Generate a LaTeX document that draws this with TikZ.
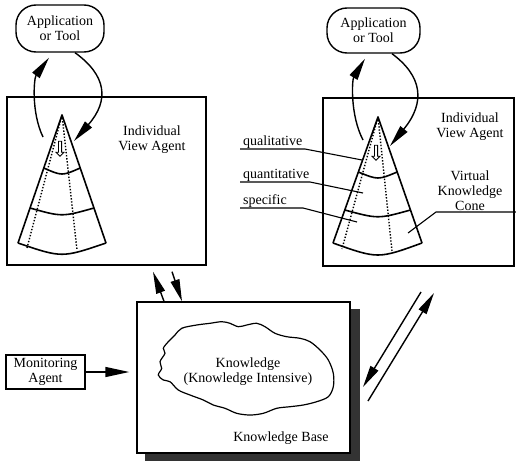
\documentclass[tikz,border=0pt]{standalone}
\usepackage{fontspec}
\setmainfont{Liberation Serif}
\usetikzlibrary{arrows.meta,shapes.arrows,calc}

\begin{document}
\begin{tikzpicture}[x=1pt,y=-1pt,
  every node/.style={font=\fontsize{14}{15}\selectfont, align=center},
  frame/.style={draw, line width=1.4pt, inner sep=0pt},
  appbox/.style={draw, line width=1.4pt, rounded corners=20pt, inner sep=0pt},
  conel/.style={line width=1.6pt, line join=round},
  inner/.style={line width=1.4pt, dash pattern=on 1.4pt off 1.7pt},
  flowarrow/.style={line width=1.4pt, -{Triangle[length=22pt,width=9pt]}},
  bigarrow/.style={line width=1.4pt, -{Triangle[length=24pt,width=10pt]}},
  leader/.style={line width=1.1pt},
  smallarrow/.style={single arrow, draw, fill=white, line width=0.8pt,
    shape border rotate=270, minimum height=15pt, minimum width=8pt,
    single arrow head extend=1.5pt, inner sep=0.6pt}]
\useasboundingbox (0,0) rectangle (516,460);

% ---------- applications ----------
\node[appbox, minimum width=88pt, minimum height=47pt] (appL) at (60,28.5) {Application\\or Tool};
\node[appbox, minimum width=93pt, minimum height=45pt] (appR) at (373.5,30.5) {Application\\or Tool};

% ---------- view agent frames ----------
\node[frame, minimum width=199pt, minimum height=168pt] (viewL) at (106.5,181) {};
\node[frame, minimum width=191pt, minimum height=168pt] (viewR) at (418.5,182) {};
\node (labL) at (152,140) {Individual\\View Agent};
\node (labR) at (470,127) {Individual\\View Agent};

% ---------- left cone ----------
\coordinate (LA) at (62,115);
\coordinate (LBL) at (18,243);
\coordinate (LBR) at (106,243);
\draw[conel] (LBL) -- (LA) -- (LBR);
\draw[conel] (LBL) .. controls (62,258) .. (LBR);
\draw[conel] (43.8,168) .. controls (62,176) .. (80.2,168);
\draw[conel] (30,208) .. controls (62,217) .. (94,208);
\draw[inner] (LA) -- (27,248);
\draw[inner] (LA) -- (77,250);
\node[smallarrow] (sL) at (60,148) {};

% ---------- right cone ----------
\coordinate (RA) at (378,117);
\coordinate (RBL) at (333,243);
\coordinate (RBR) at (422,243);
\draw[conel] (RBL) -- (RA) -- (RBR);
\draw[conel] (RBL) .. controls (378,259) .. (RBR);
\draw[conel] (358.3,172) .. controls (378,180) .. (397.2,172);
\draw[conel] (344.8,210) .. controls (378,219) .. (410.5,210);
\draw[inner] (RA) -- (342,249);
\draw[inner] (RA) -- (392,251);
\node[smallarrow] (sR) at (376,152) {};

% ---------- cone level labels ----------
\node[anchor=base west, inner sep=0pt] (qual) at (243,145) {qualitative};
\node[anchor=base west, inner sep=0pt] (quan) at (243,178) {quantitative};
\node[anchor=base west, inner sep=0pt] (spec) at (243,204) {specific};
\coordinate (qualA) at (240,149);
\coordinate (qualB) at (305,149);
\coordinate (qualC) at (362,160);
\coordinate (quanA) at (240,182);
\coordinate (quanB) at (310,182);
\coordinate (quanC) at (363,193);
\coordinate (specA) at (240,208);
\coordinate (specB) at (303,208);
\coordinate (specC) at (357,222);
\draw[leader] (qualA) -- (qualB) -- (qualC);
\draw[leader] (quanA) -- (quanB) -- (quanC);
\draw[leader] (specA) -- (specB) -- (specC);

\node (vkc) at (470,191) {Virtual\\Knowledge\\Cone};
\coordinate (coneA) at (516,212);
\coordinate (coneB) at (436,212);
\coordinate (coneC) at (408,233);
\draw[leader] (coneA) -- (coneB) -- (coneC);

% ---------- application arrows ----------
\coordinate (upL) at (43,137);
\coordinate (dnL) at (74,141);
\draw[flowarrow] (upL) .. controls (31,112) and (34,78) .. ([xshift=-11pt,yshift=-5pt]appL.south);
\draw[flowarrow] ([xshift=15pt]appL.south) .. controls (106,75) and (110,100) .. (dnL);

\coordinate (upR) at (363,140);
\coordinate (dnR) at (390,146);
\draw[flowarrow] (upR) .. controls (350,115) and (352,80) .. ([xshift=-8.5pt,yshift=-5pt]appR.south);
\draw[flowarrow] ([xshift=18.5pt]appR.south) .. controls (422,76) and (426,102) .. (dnR);

% ---------- knowledge base ----------
\node[fill=black!80, minimum width=215pt, minimum height=152pt, inner sep=0pt] (kbshadow) at (252.5,385) {};
\node[frame, fill=white, minimum width=213pt, minimum height=151pt] (kb) at (243.5,377.5) {};
\draw[line width=1.2pt] plot[smooth cycle, tension=0.55] coordinates {
  (175,335) (181.7,328.3) (196.7,325) (210,323.3) (221.7,321.7) (230,323.3)
  (238.3,326.7) (246.7,325) (256.7,323.3) (265,326.7) (275,333.3) (286.7,336.7)
  (300,338.3) (310,341.7) (320,350) (328.3,360) (333.3,373.3) (333.3,386.7)
  (328.3,396.7) (316.7,401.7) (303.3,405) (290,406.7) (276.7,408.3) (263.3,413.3)
  (250,415) (236.7,413.3) (225,408.3) (213.3,405) (203.3,400) (190,395)
  (178.3,390) (170,381.7) (163.3,380) (158.3,375) (161.7,368.3) (160,361.7)
  (165,353.3) (163.3,348.3) (168.3,341.7)};
\node (know) at (248,372) {Knowledge\\(Knowledge Intensive)};
\node (kblab) at (281,438) {Knowledge Base};

% ---------- monitoring agent ----------
\node[frame, minimum width=79pt, minimum height=34pt] (mon) at (45.5,372) {Monitoring\\Agent};
\draw[bigarrow, shorten >=7pt] (mon.east) -- (mon.east -| kb.west);

% ---------- links to the knowledge base ----------
\draw[flowarrow] ([xshift=-79.5pt]kb.north) -- ([xshift=46.5pt,yshift=-6pt]viewL.south);
\draw[flowarrow] ([xshift=65.5pt,yshift=-6pt]viewL.south) -- ([xshift=-61.5pt]kb.north);

\coordinate (dgA) at (421,292);
\coordinate (dgB) at (363,387);
\coordinate (dgC) at (368,401);
\coordinate (dgD) at (434,293);
\draw[flowarrow] (dgA) -- (dgB);
\draw[flowarrow] (dgC) -- (dgD);
\end{tikzpicture}
\end{document}
